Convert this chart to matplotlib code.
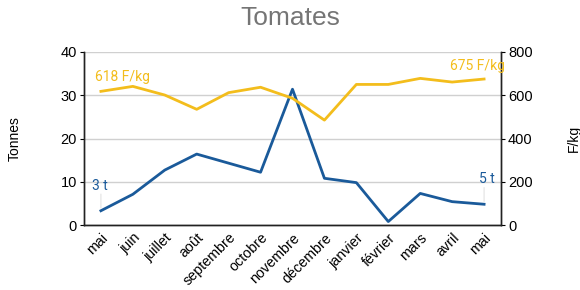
import matplotlib
matplotlib.use("Agg")
import matplotlib.pyplot as plt

months = ["mai", "juin", "juillet", "août", "septembre", "octobre", "novembre",
          "décembre", "janvier", "février", "mars", "avril", "mai"]
tonnes = [3.3, 7.1, 12.7, 16.4, 14.3, 12.2, 31.4, 10.8, 9.8, 0.8, 7.3, 5.4, 4.8]
prix = [618, 641, 601, 535, 612, 637, 586, 485, 650, 650, 678, 661, 675]

ARIAL = ["Liberation Sans", "DejaVu Sans"]
plt.rcParams['font.family'] = ARIAL

BLUE = "#1a5a9a"
YELLOW = "#f3bd1c"

fig = plt.figure(figsize=(5.8, 2.9), dpi=100)
ax = fig.add_axes([0.1448, 0.2241, 0.719, 0.5966])
ax2 = ax.twinx()

x = list(range(len(months)))
ax.plot(x, tonnes, color=BLUE, lw=2, zorder=3)
ax2.plot(x, prix, color=YELLOW, lw=2, zorder=3)

ax.set_xlim(-0.53, len(months) - 0.47)
ax.set_ylim(0, 40)
ax2.set_ylim(0, 800)
ax.set_yticks([0, 10, 20, 30, 40])
ax2.set_yticks([0, 200, 400, 600, 800])
ax.yaxis.grid(True, color="#d0d0d0", lw=1)
ax.set_axisbelow(True)
ax.set_xticks(x)
ax.set_xticklabels(months, rotation=45, ha="right", rotation_mode="anchor", fontsize=10.3)
ax.tick_params(axis="x", length=0, pad=4)
ax.tick_params(axis="y", labelsize=10.5, length=3, pad=2)
ax2.tick_params(axis="y", labelsize=10.5, length=3, pad=2)

for a in (ax, ax2):
    a.spines["top"].set_visible(False)
    for s in ("left", "right", "bottom"):
        a.spines[s].set_color("#222222")
        a.spines[s].set_linewidth(1)

ax.set_ylabel("Tonnes", fontsize=10)
ax.yaxis.set_label_coords(-0.150, 0.5)
ax2.set_ylabel("F/kg", fontsize=10, rotation=90)
ax2.yaxis.set_label_coords(1.158, 0.5)

fig.suptitle("Tomates", x=0.5, y=0.98, fontsize=19, color="#757575")

ROB = ["Roboto", "DejaVu Sans"]
# annotations
ax2.annotate(f"{prix[0]} F/kg", xy=(x[0], prix[0]), xytext=(-4.5, 5),
             textcoords="offset points", color=YELLOW, fontsize=10, ha="left", va="bottom",
             family=ROB)
ax2.annotate(f"{prix[-1]} F/kg", xy=(x[-1], prix[-1]), xytext=(15, 4),
             textcoords="offset points", color=YELLOW, fontsize=10, ha="right", va="bottom",
             family=ROB)
ax.annotate(f"{round(tonnes[0])} t", xy=(x[0], tonnes[0]), xytext=(-6.5, 13),
            textcoords="offset points", color=BLUE, fontsize=10, ha="left", va="bottom",
            family=ROB)
ax.annotate(f"{round(tonnes[-1])} t", xy=(x[-1], tonnes[-1]), xytext=(7.5, 13),
            textcoords="offset points", color=BLUE, fontsize=10, ha="right", va="bottom",
            family=ROB)
for i in (0, -1):
    ax.annotate("", xy=(x[i], tonnes[i]), xytext=(0, 12), textcoords="offset points",
                arrowprops=dict(arrowstyle="-", color="#e2e2e2", lw=0.8, shrinkA=0, shrinkB=2))

fig.savefig("out.png", dpi=100)
